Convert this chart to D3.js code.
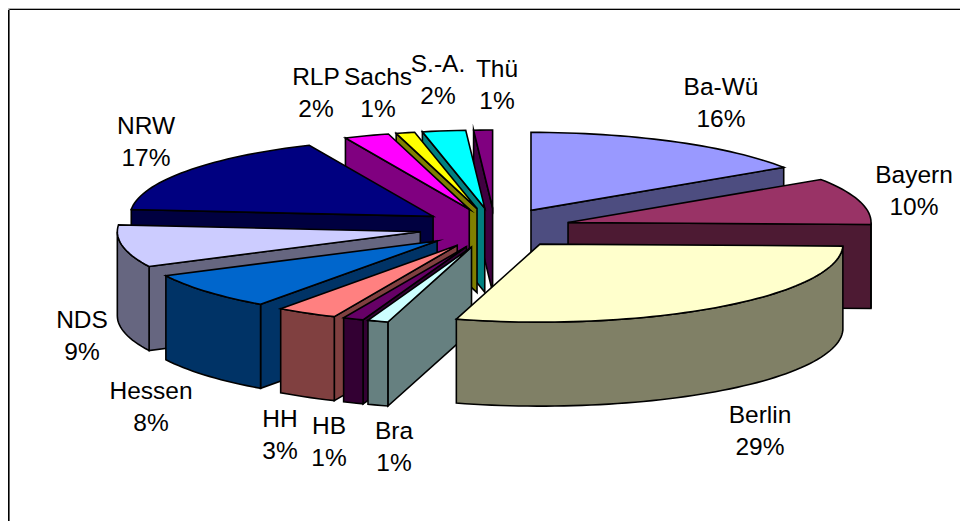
<!DOCTYPE html>
<html><head><meta charset="utf-8">
<script src="https://cdnjs.cloudflare.com/ajax/libs/d3/7.8.5/d3.min.js"></script>
<style>html,body{margin:0;padding:0;background:#fff}svg{display:block}text{font-family:"Liberation Sans",Arial,sans-serif;font-size:24.5px;fill:#000}</style>
</head><body><svg id="c" width="960" height="521"></svg>
<script>
const categories=["Ba-Wü","Bayern","Berlin","Bra","HB","HH","Hessen","NDS","NRW","RLP","Sachs","S.-A.","Thü"];
const shares=[15.7,9.7,29.05,1.1,1.1,3.25,7.75,8.75,16.9,2.4,1,2.3,1];
const topColors=["#9999FF","#993366","#FFFFCC","#CCFFFF","#660066","#FF8080","#0066CC","#CCCCFF","#000080","#FF00FF","#FFFF00","#00FFFF","#800080"];
const sideColors=["#4D4D80","#4D1A33","#808066","#668080","#330033","#804040","#003366","#666680","#000040","#800080","#808000","#008080","#400040"];
const paintOrder=["Thü","S.-A.","Sachs","RLP","Ba-Wü","NRW","Bayern","NDS","Hessen","HH","HB","Bra","Berlin"];
const labelAnchors=[[721,95],[914,183],[760,423],[394,439],[329,434],[280,427],[151,399],[82,328],[146,134],[316,85],[378,85],[438,72],[497,77]];

const cx=495,cy=228,rx=303,ry=78,ex=76,ey=20,depth=84;
const svg=d3.select("#c");
const frame=svg.append("g").attr("fill","none");
frame.append("path").attr("d","M8.5,521V8.5H960").attr("stroke","#b0b0b0");
frame.append("path").attr("d","M9.5,521V9.5H960").attr("stroke","#000");
frame.append("path").attr("d","M8.5,10V521").attr("stroke","#000");
frame.append("path").attr("d","M9.5,10V521").attr("stroke","#666");
const pie=d3.pie().sort(null).value(d=>d);
const arcs=pie(shares).map((a,i)=>({i,a0:a.startAngle,a1:a.endAngle,mid:(a.startAngle+a.endAngle)/2}));
const line=d3.line();
function rim(t,d,dz){return [d.tx+rx*Math.sin(t),d.ty-ry*Math.cos(t)+dz];}
function samples(a0,a1){const n=Math.max(2,Math.ceil((a1-a0)/0.03));return d3.range(n+1).map(k=>a0+(a1-a0)*k/n);}
arcs.forEach(d=>{d.tx=cx+ex*Math.sin(d.mid);d.ty=cy-ey*Math.cos(d.mid);});
const chart=svg.append("g").attr("stroke","#000").attr("stroke-width",1.6).attr("stroke-linejoin","miter").attr("stroke-miterlimit",10);
paintOrder.map(n=>arcs[categories.indexOf(n)]).forEach(d=>{
  const g=chart.append("g");
  const side=sideColors[d.i],top=topColors[d.i];
  const tip=[d.tx,d.ty],tipB=[d.tx,d.ty+depth];
  if(Math.sin(d.a0)<0){g.append("path").attr("fill",side).attr("d",line([tip,rim(d.a0,d,0),rim(d.a0,d,depth),tipB])+"Z");}
  if(Math.sin(d.a1)>0){g.append("path").attr("fill",side).attr("d",line([tip,rim(d.a1,d,0),rim(d.a1,d,depth),tipB])+"Z");}
  const r0=Math.max(d.a0,Math.PI/2),r1=Math.min(d.a1,3*Math.PI/2);
  if(r1>r0){const s=samples(r0,r1);g.append("path").attr("fill",side).attr("d",line(s.map(t=>rim(t,d,0)).concat(s.slice().reverse().map(t=>rim(t,d,depth))))+"Z");}
  g.append("path").attr("fill",top).attr("d",line([tip].concat(samples(d.a0,d.a1).map(t=>rim(t,d,0))))+"Z");
});
const labels=svg.append("g").attr("text-anchor","middle");
categories.forEach((c,i)=>{
  const [x,y]=labelAnchors[i];
  labels.append("text").attr("x",x).attr("y",y).text(c);
  labels.append("text").attr("x",x).attr("y",y+31.5).text(Math.round(shares[i])+"%");
});
</script></body></html>
